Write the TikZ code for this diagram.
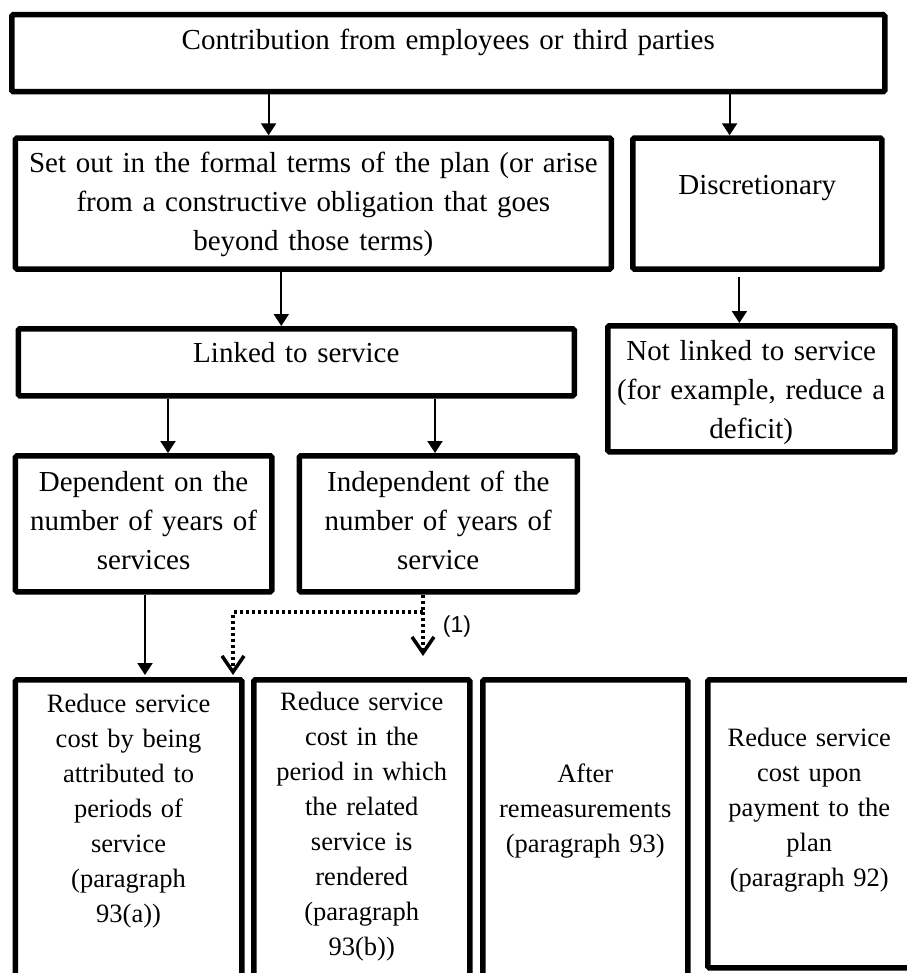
\documentclass[tikz,border=0pt]{standalone}
\usepackage{fontspec}
\setmainfont{Liberation Serif}
\setsansfont{Liberation Sans}
\usetikzlibrary{arrows.meta,calc}
\tikzset{
   every path/.style={>={Triangle[length=12pt,width=15pt]}},
   box/.style={draw,line width=5.5pt,rounded corners=1.5pt,inner sep=0pt,align=center,anchor=north west,font=\fontsize{29}{39}\selectfont},
   sbox/.style={box,font=\fontsize{26.5}{35}\selectfont},
   ln/.style={->,line width=2pt},
   opt/.style={-{Straight Barb[length=16pt,width=22pt,line width=3.5pt]},line width=3.5pt,dash pattern=on 3pt off 3pt},
   note/.style={font=\sffamily\fontsize{23}{27}\selectfont,inner sep=0pt},
}
\begin{document}
\begin{tikzpicture}[x=1pt,y=-1pt]
      \fill[white] (0,0) rectangle (906,973);
      \useasboundingbox (0,0) rectangle (906,973);
      \node[box,text width=873pt,text height=35.2pt,text depth=41.8pt] (top) at (9,12) {Contribution from employees or third parties};
      \node[box,text width=595.8pt,text height=34.6pt,text depth=96.4pt] (setout) at (12.7,135.3) {Set out in the formal terms of the plan (or arise\\from a constructive obligation that goes\\beyond those terms)};
      \node[box,text width=249pt,text height=56.4pt,text depth=74.6pt] (disc) at (630,135.3) {Discretionary};
      \node[box,text width=555.9pt,text height=33.9pt,text depth=33.1pt] (linked) at (15.6,326) {Linked to service};
      \node[box,text width=287pt,text height=35pt,text depth=91pt] (notlinked) at (605,323) {Not linked to service\\(for example, reduce a\\deficit)};
      \node[box,text width=256.3pt,text height=35.4pt,text depth=100.6pt] (dep) at (12.7,453) {Dependent on the\\number of years of\\services};
      \node[box,text width=278pt,text height=35.4pt,text depth=100.6pt] (indep) at (296.5,453) {Independent of the\\number of years of\\service};
      \node[sbox,text width=226.3pt,text height=32.6pt,text depth=287.9pt] (red1) at (12.7,677) {Reduce service\\cost by being\\attributed to\\periods of\\service\\(paragraph\\93(a))};
      \node[sbox,text width=216pt,text height=31.1pt,text depth=289.4pt] (red2) at (251,677) {Reduce service\\cost in the\\period in which\\the related\\service is\\rendered\\(paragraph\\93(b))};
      \node[sbox,text width=205pt,text height=102.6pt,text depth=217.9pt] (remeas) at (480,677) {After\\remeasurements\\(paragraph 93)};
      \node[sbox,text width=203pt,text height=66.6pt,text depth=221.4pt] (red4) at (705,677) {Reduce service\\cost upon\\payment to the\\plan\\(paragraph 92)};
      \node[note] (fn) at (457,627) {(1)};
      \coordinate (split) at (423,612);
      \draw[ln] (top.south -| 268.6,0) -- (setout.north -| 268.6,0);
      \draw[ln] (top.south -| 729.6,0) -- (disc.north -| 729.6,0);
      \draw[ln] (setout.south -| 281.3,0) -- (linked.north -| 281.3,0);
      \draw[ln,shorten <=5pt] (disc.south -| 739.4,0) -- (notlinked.north -| 739.4,0);
      \draw[ln] (linked.south -| 168,0) -- (dep.north -| 168,0);
      \draw[ln] (linked.south -| 435,0) -- (indep.north -| 435,0);
      \draw[ln,shorten >=2pt] (dep.south -| 145,0) -- (red1.north -| 145,0);
      \draw[opt,shorten >=2pt] (indep.south -| split) -- (split) -| (red1.north -| 233,0);
      \draw[opt,shorten >=21pt] (split) -- (red2.north -| split);
    \end{tikzpicture}
\end{document}
